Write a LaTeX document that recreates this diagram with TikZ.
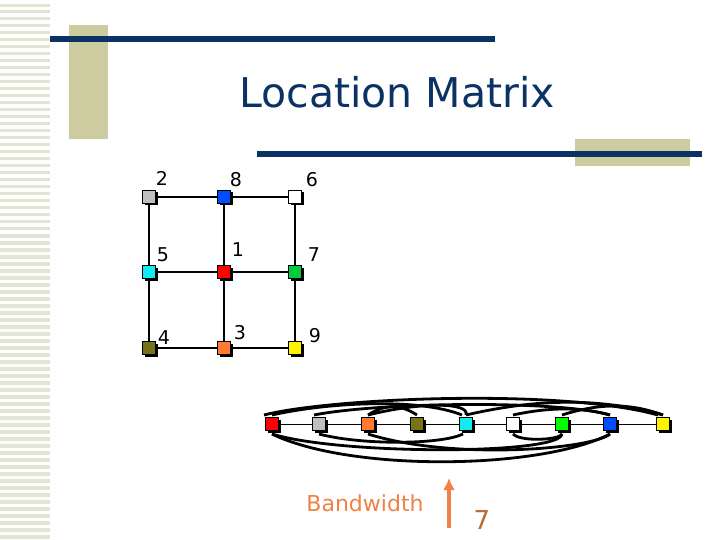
\documentclass[tikz,border=0pt]{standalone}
\usepackage{fontspec}
\setmainfont{DejaVu Sans}
\usetikzlibrary{shadows,arrows.meta,calc}
\definecolor{navy}{RGB}{10,50,100}
\definecolor{tan}{RGB}{204,204,160}
\definecolor{stripe}{RGB}{228,228,210}
\definecolor{bwor}{RGB}{240,130,70}
\definecolor{cy}{RGB}{20,235,240}
\begin{document}
\begin{tikzpicture}[x=1pt,y=-1pt,
 sq/.style={draw=black,line width=0.8pt,minimum size=13pt,inner sep=0pt,drop shadow={shadow xshift=2pt,shadow yshift=-2pt,fill=black,opacity=1}},
 lab/.style={font=\fontsize{19}{19}\selectfont},
 arc/.style={line width=2.8pt}]
\useasboundingbox (0,0) rectangle (720,540);
\fill[white] (0,0) rectangle (720,540);
\foreach \y in {4,10,17,24,31,38,45,52,59,66,73,80,87,94,101,108,115,122,129,136,143,150,157,164,171,178,185,192,199,206,213,220,227,234,241,248,255,262,269,276,283,290,297,304,311,318,325,332,339,346,353,360,367,374,381,388,395,402,409,416,423,430,437,444,451,458,465,472,479,486,493,500,507,514,521,528,535}
  \fill[stripe] (0,\y) rectangle (50,\y+3.5);
\fill[tan] (69,25) rectangle (108,139);
\fill[tan] (575,139) rectangle (690,166);
\fill[navy] (50,36) rectangle (495,42);
\fill[navy] (257,151) rectangle (702,157);
\node[font=\fontsize{41}{41}\selectfont,text=navy] (title) at (397,92) {Location Matrix};
% grid
\coordinate (g2) at (149,197); \coordinate (g8) at (224,197); \coordinate (g6) at (295,197);
\coordinate (g5) at (149,272); \coordinate (g1) at (224,272); \coordinate (g7) at (295,272);
\coordinate (g4) at (149,348); \coordinate (g3) at (224,348); \coordinate (g9) at (295,348);
\foreach \a/\b in {g2/g8,g8/g6,g5/g1,g1/g7,g4/g3,g3/g9,g2/g5,g5/g4,g8/g1,g1/g3,g6/g7,g7/g9}
  \draw[line width=2pt] (\a) -- (\b);
\node[sq,fill=gray!50] (n2) at (g2) {};
\node[sq,fill=blue!70!cyan] (n8) at (g8) {};
\node[sq,fill=white] (n6) at (g6) {};
\node[sq,fill=cy] (n5) at (g5) {};
\node[sq,fill=red] (n1) at (g1) {};
\node[sq,fill=green!70!cyan!80!black] (n7) at (g7) {};
\node[sq,fill=olive!80!black] (n4) at (g4) {};
\node[sq,fill=orange!70!red!80] (n3) at (g3) {};
\node[sq,fill=yellow] (n9) at (g9) {};
\node[lab] (l2) at (162,178) {2};
\node[lab] (l8) at (236,180) {8};
\node[lab] (l6) at (312,180) {6};
\node[lab] (l5) at (163,255) {5};
\node[lab] (l1) at (238,250) {1};
\node[lab] (l7) at (314,255) {7};
\node[lab] (l4) at (164,338) {4};
\node[lab] (l3) at (240,333) {3};
\node[lab] (l9) at (315,336) {9};
% linear
\coordinate (a1) at (272,424); \coordinate (a2) at (319,424); \coordinate (a3) at (368,424);
\coordinate (a4) at (417,424); \coordinate (a5) at (466,424); \coordinate (a6) at (513,424);
\coordinate (a7) at (562,424); \coordinate (a8) at (610,424); \coordinate (a9) at (663,424);
\draw[line width=0.8pt] (a1) -- (a9);
% arcs above
\draw[arc] ($(a1)+(-8,-9)$) .. controls (330,398) and (560,388) .. ($(a9)+(-5,-9)$);
\draw[arc] ($(a2)+(-5,-9)$) .. controls (380,402) and (560,400) .. ($(a8)+(0,-9)$);
\draw[arc] ($(a1)+(0,-9)$) .. controls (330,402) and (420,398) .. ($(a5)+(-4,-9)$);
\draw[arc] ($(a3)+(0,-9)$) .. controls (385,404) and (400,404) .. ($(a4)+(0,-9)$);
\draw[arc] ($(a3)+(0,-9)$) .. controls (420,402) and (470,402) .. ($(a5)+(0,-9)$);
\draw[arc] ($(a5)+(0,-9)$) .. controls (540,398) and (600,398) .. ($(a9)+(0,-9)$);
\draw[arc] ($(a6)+(0,-9)$) .. controls (550,407) and (580,407) .. ($(a8)+(0,-9)$);
\draw[arc] ($(a7)+(0,-9)$) .. controls (600,403) and (630,403) .. ($(a9)+(0,-9)$);
% arcs below
\draw[arc] ($(a1)+(0,10)$) .. controls (350,472) and (540,470) .. ($(a8)+(0,10)$);
\draw[arc] ($(a1)+(0,10)$) .. controls (340,455) and (560,455) .. ($(a7)+(0,10)$);
\draw[arc] ($(a2)+(0,10)$) .. controls (360,445) and (440,445) .. ($(a5)+(-3,10)$);
\draw[arc] ($(a3)+(0,10)$) .. controls (450,460) and (590,450) .. ($(a8)+(0,10)$);
\draw[arc] ($(a6)+(0,10)$) .. controls (520,442) and (560,440) .. ($(a7)+(0,10)$);
\node[sq,fill=red] (b1) at (a1) {};
\node[sq,fill=gray!50] (b2) at (a2) {};
\node[sq,fill=orange!70!red!80] (b3) at (a3) {};
\node[sq,fill=olive!80!black] (b4) at (a4) {};
\node[sq,fill=cy] (b5) at (a5) {};
\node[sq,fill=white] (b6) at (a6) {};
\node[sq,fill=green] (b7) at (a7) {};
\node[sq,fill=blue!70!cyan] (b8) at (a8) {};
\node[sq,fill=yellow] (b9) at (a9) {};
\node[font=\fontsize{22}{22}\selectfont,text=bwor] (bw) at (365,503) {Bandwidth};
\coordinate (ab) at (449,528); \coordinate (at) at (449,478);
\draw[bwor,line width=4pt,-{Latex[length=12pt,width=12pt]}] (ab) -- (at);
\node[font=\fontsize{26}{26}\selectfont,text=bwor!80!black] (seven) at (482,520) {7};
\end{tikzpicture}
\end{document}
